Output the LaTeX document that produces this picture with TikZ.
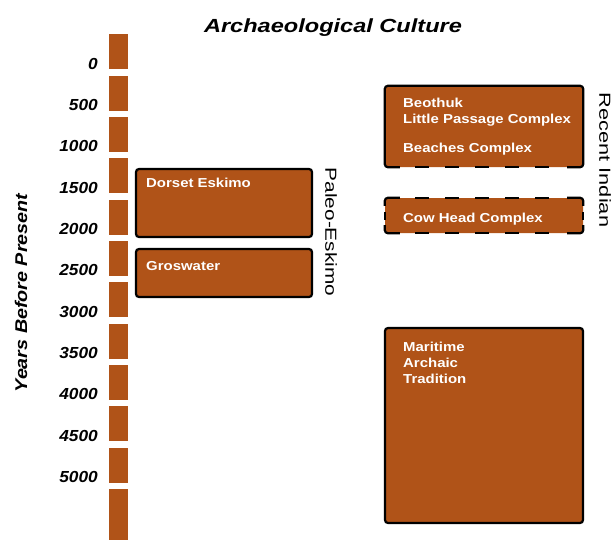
\documentclass[tikz,border=0pt]{standalone}
\usepackage{fontspec}
\usepackage{graphicx}
\setmainfont{Liberation Sans}
\definecolor{rust}{RGB}{176,83,24}
\newcommand\wide[2]{\scalebox{#1}[1]{#2}}
\begin{document}
\begin{tikzpicture}[x=1pt,y=-1pt,
  seg/.style={fill=rust, draw=none, inner sep=0pt, minimum width=19pt, anchor=north west},
  box/.style={fill=rust, draw=black, line width=2.2pt, rounded corners=3pt, inner sep=0pt},
  fillbox/.style={fill=rust, draw=none, rounded corners=3pt, inner sep=0pt},
  btxt/.style={text=white, font=\fontsize{13}{15}\selectfont\bfseries, inner sep=0pt, anchor=base west},
  num/.style={font=\fontsize{16}{18}\selectfont\bfseries\itshape, inner sep=0pt, anchor=base east},
  side/.style={font=\fontsize{16}{18}\selectfont, inner sep=0pt, rotate=-90},
  edge/.style={line width=2.2pt, rounded corners=3pt}
]
\path[use as bounding box] (0,0) rectangle (613,539);

% title
\node[font=\fontsize{19}{21}\selectfont\bfseries\itshape, inner sep=0pt, anchor=base] (title) at (333,32) {\wide{1.24}{Archaeological Culture}};

% time bar and labels
\foreach \v [count=\i from 0] in {0,500,...,5000} {
  \pgfmathsetmacro\t{34+41.35*\i}
  \pgfmathsetmacro\b{\t+35}
  \node[seg, minimum height=35pt] (seg\i) at (109,\t) {};
  \node[num] (n\i) at (98,\b) {\wide{1.08}{\v}};
}
\node[seg, minimum height=52pt] (seg11) at (109,489) {};

\node[font=\fontsize{17}{19}\selectfont\bfseries\itshape, inner sep=0pt, rotate=90] (ybp) at (21,293) {\wide{1.16}{Years Before Present}};

% Paleo-Eskimo
\node[box, minimum width=176pt, minimum height=68pt] (dorset) at (224,203) {};
\node[btxt] (dorsetT) at (146,187) {\wide{1.15}{Dorset Eskimo}};
\node[box, minimum width=176pt, minimum height=48pt] (gros) at (224,273) {};
\node[btxt] (grosT) at (146,270) {\wide{1.15}{Groswater}};
\node[side] (paleo) at (331,232) {\wide{1.3}{Paleo-Eskimo}};

% Recent Indian
\node[fillbox, minimum width=198pt, minimum height=81pt] (beo) at (484,126.5) {};
\draw[edge] ([xshift=15pt]beo.south west) -- (beo.south west) -- (beo.north west) -- (beo.north east) -- (beo.south east) -- ([xshift=-16pt]beo.south east);
\foreach \a in {415,445,...,535} \draw[line width=2.2pt] (\a,167) -- (\a+14,167);
\node[btxt] (beoT1) at (403,107) {\wide{1.15}{Beothuk}};
\node[btxt] (beoT2) at (403,123) {\wide{1.15}{Little Passage Complex}};
\node[btxt] (beoT3) at (403,152) {\wide{1.15}{Beaches Complex}};

\node[fillbox, minimum width=198pt, minimum height=35pt] (cow) at (484,215.5) {};
\draw[edge] ([yshift=-8pt]cow.north west) -- (cow.north west) -- ([xshift=15pt]cow.north west);
\draw[edge] ([xshift=-16pt]cow.north east) -- (cow.north east) -- ([yshift=-8pt]cow.north east);
\draw[edge] ([yshift=8pt]cow.south west) -- (cow.south west) -- ([xshift=15pt]cow.south west);
\draw[edge] ([xshift=-16pt]cow.south east) -- (cow.south east) -- ([yshift=8pt]cow.south east);
\draw[line width=2.2pt] ([yshift=-4pt]cow.west) -- ([yshift=4pt]cow.west);
\draw[line width=2.2pt] ([yshift=-4pt]cow.east) -- ([yshift=4pt]cow.east);
\foreach \a in {415,445,...,535} {
  \draw[line width=2.2pt] (\a,198) -- (\a+14,198);
  \draw[line width=2.2pt] (\a,233) -- (\a+14,233);
}
\node[btxt] (cowT) at (403,222) {\wide{1.15}{Cow Head Complex}};

\node[side] (recent) at (605,160) {\wide{1.36}{Recent Indian}};

% Maritime Archaic
\node[box, minimum width=198pt, minimum height=195pt] (mar) at (484,425.5) {};
\node[btxt] (marT1) at (403,351) {\wide{1.15}{Maritime}};
\node[btxt] (marT2) at (403,367) {\wide{1.15}{Archaic}};
\node[btxt] (marT3) at (403,383) {\wide{1.15}{Tradition}};
\end{tikzpicture}
\end{document}
